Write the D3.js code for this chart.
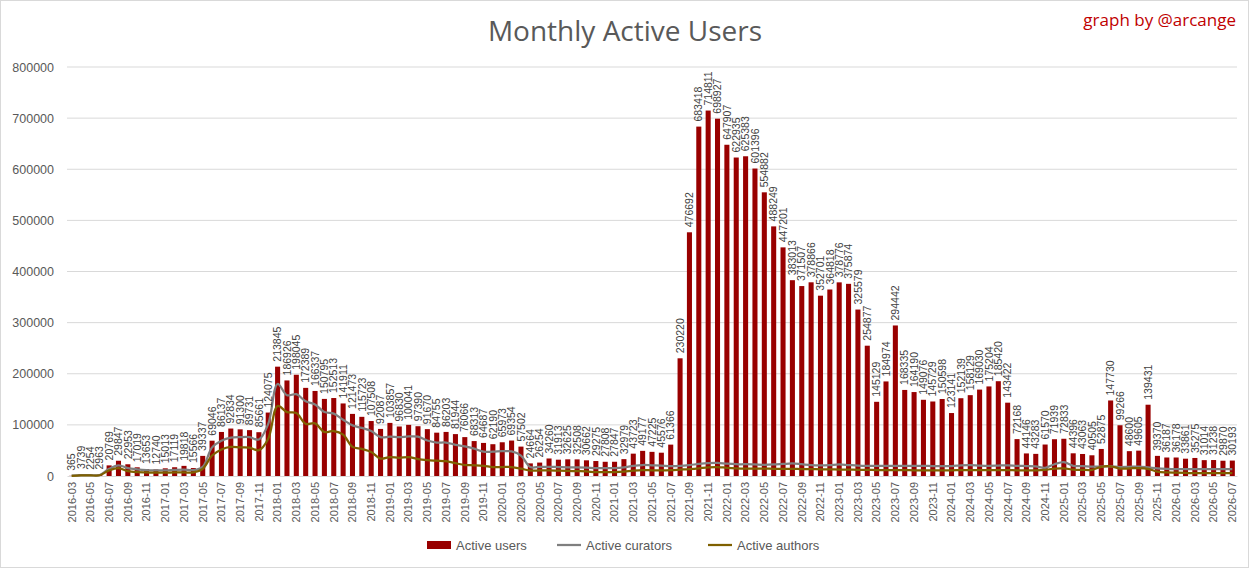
<!DOCTYPE html>
<html><head><meta charset="utf-8">
<script src="https://cdn.jsdelivr.net/npm/d3@7"></script>
<style>
body{margin:0;background:#fff;}
svg{display:block;font-family:"Liberation Sans",Arial,sans-serif;}
</style></head>
<body><svg id="c" width="1249" height="568"></svg>
<script>
const months = (function(){const a=[];for(let y=2016;y<=2026;y++){for(let m=1;m<=12;m++){if(y===2016&&m<3)continue;if(y===2026&&m>7)continue;a.push(y+"-"+String(m).padStart(2,"0"));}}return a;})();

const activeUsers = [
365,3739,2254,2963,20769,29847,22953,17019,13653,12740,
15013,17119,19818,15566,39337,69046,86137,92834,91300,89731,85661,124075,
213845,186926,198045,172389,166337,150795,152513,141911,121473,115723,107508,92087,
103857,96830,100041,97390,91670,84755,86203,81944,76066,68313,64687,62190,
65973,69354,57502,24664,26254,34260,31913,32625,32508,30662,29275,27808,
27847,32979,43723,49177,47225,45576,61366,230220,476692,683418,714811,698927,
647907,622935,625383,601396,554882,488249,447201,383013,371507,378866,352701,364818,
378776,375874,325579,254877,145129,184974,294442,168335,164190,149076,145729,150598,
123141,152139,158129,169030,175204,185420,143422,72168,44146,43283,61570,71939,
72833,44396,43063,40505,52875,147730,99266,48600,49605,139431,39370,36187,
36178,33861,35275,31014,31238,29870,30193];

const activeCurators = [
500,1500,1500,2000,14000,21000,15500,13000,11500,11000,
11000,12000,12500,11500,18000,56000,69000,75000,76000,76000,71500,102000,
180000,158000,160000,146000,140000,125000,122000,110000,99000,94000,88000,76000,
77000,76000,77500,77000,69500,65500,65500,61000,58000,53500,47500,47500,
48500,48000,40000,17500,18000,18000,17500,17000,17000,16500,15500,15500,
15500,17000,20000,21500,21000,20500,19500,20000,21500,23500,25000,25500,
24000,23000,23000,22500,22000,22500,23500,24500,23000,21500,21000,21500,
22500,21500,20500,20000,20000,20000,20000,20000,20000,20000,19500,19500,
19500,21000,21500,20500,20000,20500,21000,20000,19500,19000,16000,23000,
27000,20000,19500,18500,18500,19000,17500,18000,18500,17000,15000,14000,
13500,13500,13500,13500,13500,13500,13500];

const activeAuthors = [
300,1200,1200,1500,11000,15500,9500,7500,7000,6500,
6500,7000,7000,7000,14000,40000,52000,57000,56000,55500,50500,73000,
137000,125000,123000,102000,103000,86000,88000,81000,57000,53000,47000,34000,
37000,35500,37000,33000,31000,30000,29000,25000,21500,21000,20000,17500,
17500,17500,14500,10500,11000,11000,10500,10000,9500,9000,7500,7500,
7500,8500,10500,11500,11000,11000,11500,12500,13500,15000,17000,17500,
16000,15000,14500,14500,14500,14000,14000,14000,13500,13500,13000,13000,
12500,12500,12000,12000,11500,11500,11500,11500,11000,11000,11000,11000,
11000,11500,11500,11500,11500,11500,11500,11000,11000,11000,12000,14500,
15000,12500,12000,12000,18000,19000,14500,15000,15500,14000,8500,7000,
6500,6000,5500,5500,5500,5500,5500];

const yTicks = [0,100000,200000,300000,400000,500000,600000,700000,800000];
const xTickLabels = months.filter((d,i)=>i%2===0);

const svg = d3.select("#c");
const W=1249,H=568;
const M={left:67,right:1237,top:67,bottom:476};

svg.append("rect").attr("x",0.5).attr("y",0.5).attr("width",W-1).attr("height",H-1)
  .attr("fill","#fff").attr("stroke","#d9d9d9");

const x = d3.scaleBand().domain(months).range([M.left,M.right]).paddingInner(0.46).paddingOuter(0.23);
const y = d3.scaleLinear().domain([0,800000]).range([M.bottom,M.top]);
const cx = d=>x(d)+x.bandwidth()/2;

// gridlines
svg.append("g").selectAll("line").data(yTicks.slice(1)).join("line")
  .attr("x1",M.left).attr("x2",M.right).attr("y1",d=>y(d)).attr("y2",d=>y(d))
  .attr("stroke","#d9d9d9").attr("stroke-width",1);

// y axis
const ya = svg.append("g").attr("transform",`translate(${M.left},0)`)
  .call(d3.axisLeft(y).tickValues(yTicks).tickFormat(d=>String(d)).tickSize(0).tickPadding(13));
ya.select(".domain").remove();
ya.selectAll("text").attr("fill","#595959").attr("font-size","12.5px").style("font-family","'Liberation Sans',Arial,sans-serif");

// x axis
const xa = svg.append("g").attr("transform",`translate(0,${M.bottom})`)
  .call(d3.axisBottom(x).tickValues(xTickLabels).tickSize(0).tickPadding(0));
xa.select(".domain").attr("stroke","#d9d9d9");
xa.selectAll("text").attr("fill","#595959").attr("font-size","11px")
  .style("font-family","'Liberation Sans',Arial,sans-serif")
  .attr("text-anchor","end").attr("transform","rotate(-90)")
  .attr("x",-6).attr("y",0).attr("dy","0.35em");

// bars
svg.append("g").selectAll("rect").data(activeUsers).join("rect")
  .attr("x",(d,i)=>x(months[i])).attr("width",x.bandwidth())
  .attr("y",d=>y(d)).attr("height",d=>y(0)-y(d)).attr("fill","#990000");

// lines
const line = d3.line().x((d,i)=>cx(months[i])).y(d=>y(d)).curve(d3.curveCatmullRom.alpha(0.5));
svg.append("path").datum(activeCurators).attr("d",line).attr("fill","none")
  .attr("stroke","#7f7f7f").attr("stroke-width",2.25).attr("stroke-linejoin","round");
svg.append("path").datum(activeAuthors).attr("d",line).attr("fill","none")
  .attr("stroke","#7f6000").attr("stroke-width",2.25).attr("stroke-linejoin","round");

// data labels
svg.append("g").selectAll("text").data(activeUsers).join("text")
  .attr("transform",(d,i)=>`translate(${cx(months[i])},${y(d)-5}) rotate(-90)`)
  .attr("dy","0.35em").attr("text-anchor","start")
  .attr("fill","#404040").attr("font-size","10.5px").text(d=>d);

// title
svg.append("text").attr("x",625).attr("y",41).attr("text-anchor","middle")
  .attr("fill","#595959").attr("font-size","28px").style("font-family","'Open Sans',sans-serif")
  .text("Monthly Active Users");
svg.append("text").attr("x",1236).attr("y",26).attr("text-anchor","end")
  .attr("fill","#c00000").attr("font-size","17px").style("font-family","'Open Sans',sans-serif")
  .text("graph by @arcange");

// legend
const legend = [
  {name:"Active users",type:"rect",color:"#990000",x:427},
  {name:"Active curators",type:"line",color:"#7f7f7f",x:557},
  {name:"Active authors",type:"line",color:"#7f6000",x:708}
];
const lg = svg.append("g");
legend.forEach(l=>{
  if(l.type==="rect") lg.append("rect").attr("x",l.x).attr("y",541).attr("width",24).attr("height",8).attr("fill",l.color);
  else lg.append("line").attr("x1",l.x).attr("x2",l.x+24).attr("y1",545).attr("y2",545).attr("stroke",l.color).attr("stroke-width",2.25);
  lg.append("text").attr("x",l.x+29).attr("y",545).attr("dy","0.35em").attr("fill","#595959")
    .attr("font-size","13px").text(l.name);
});
</script></body></html>
